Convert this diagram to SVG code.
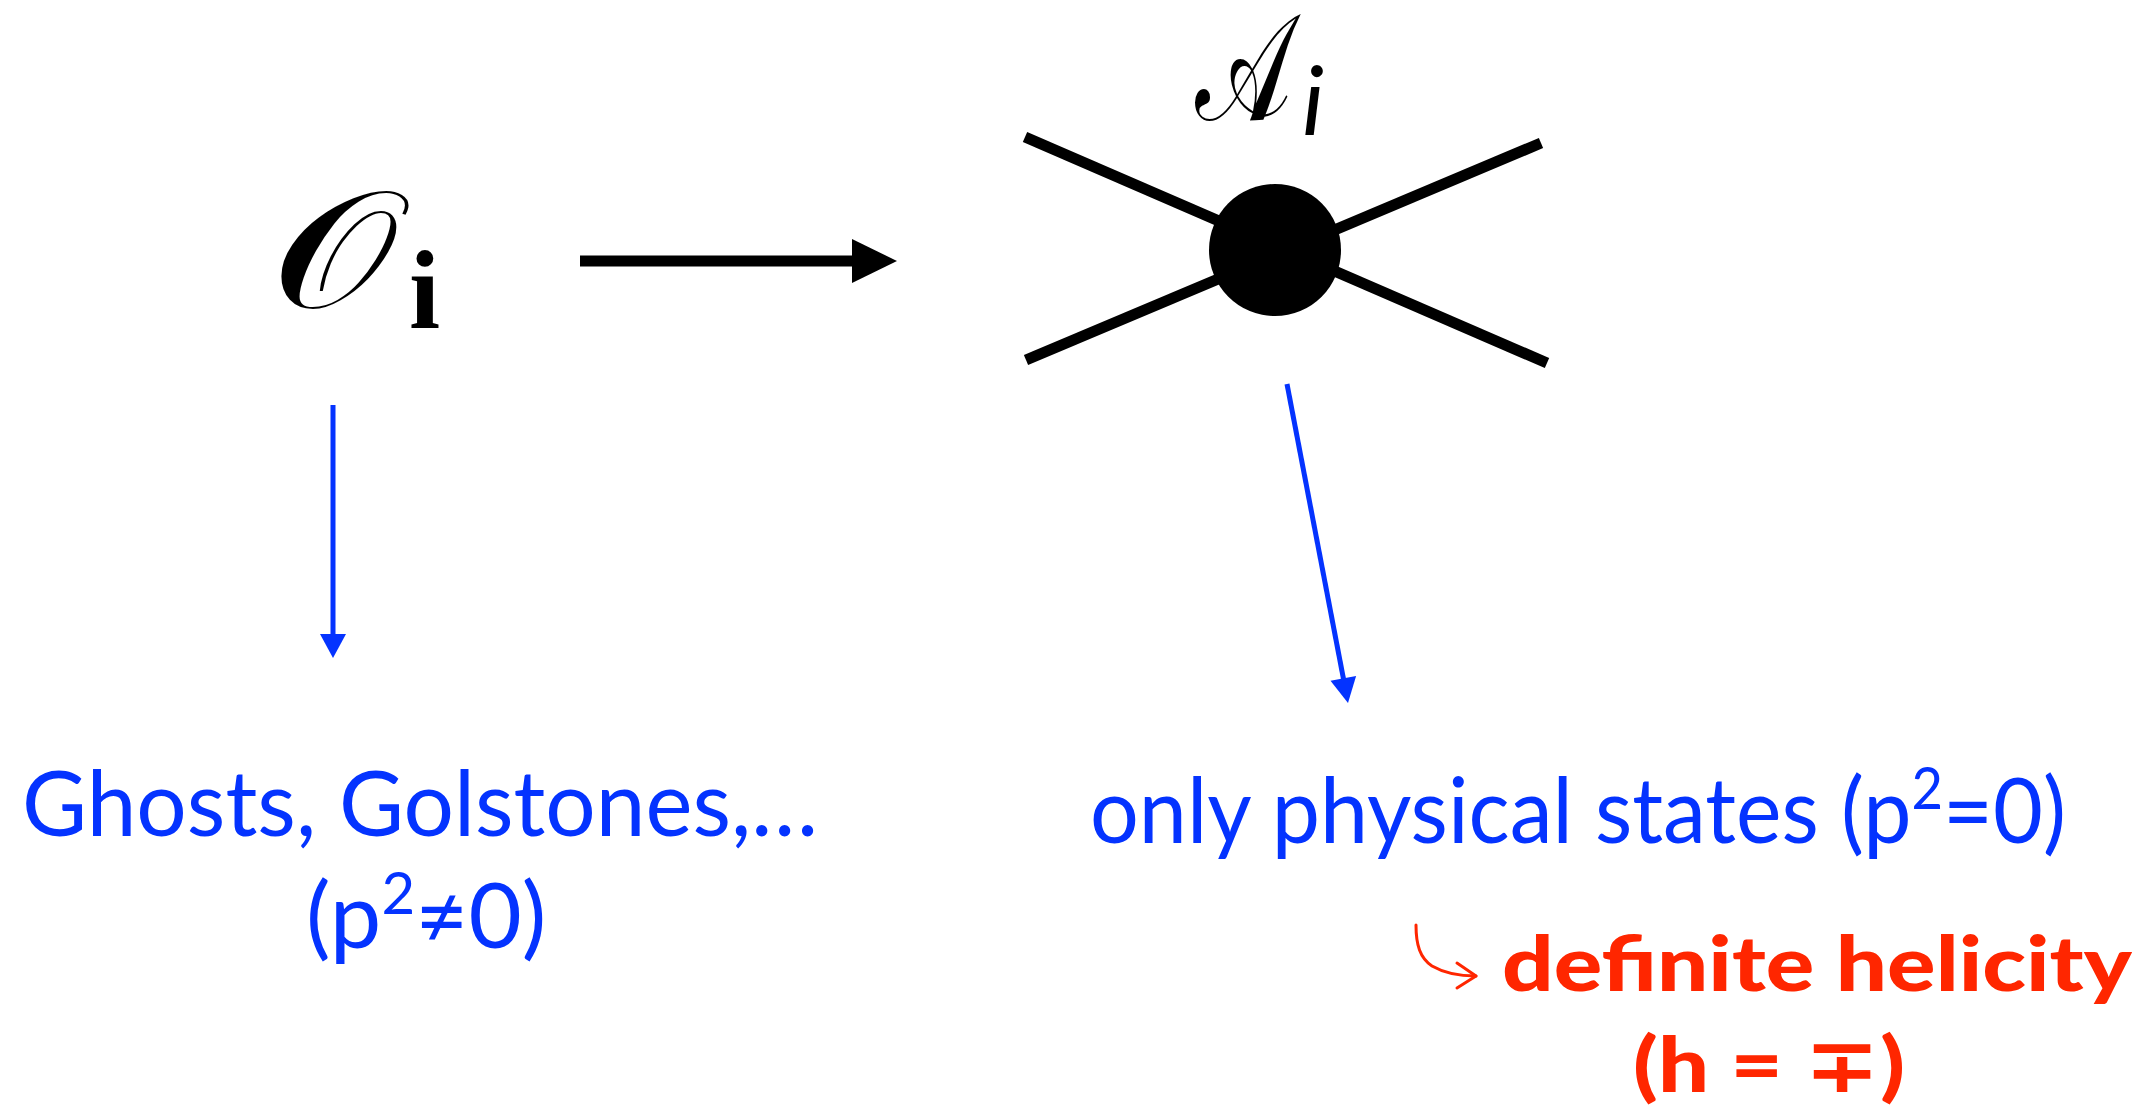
<svg xmlns="http://www.w3.org/2000/svg" width="2148" height="1110" viewBox="0 0 2148 1110">
  <style>
    .blue { fill: #0433FF; font-family: "Lato", "Open Sans", "DejaVu Sans", sans-serif; font-size: 92px; }
    .red { fill: #FF2600; font-family: "Lato", "Open Sans", "DejaVu Sans", sans-serif; font-size: 76px; font-weight: 900; }
    .script { fill: #000; font-family: "DejaVu Serif", "DejaVu Sans", "Noto Sans", serif; font-size: 140px; }
    .leg { stroke: #000; stroke-width: 11; stroke-linecap: butt; }
    .bl { stroke: #0433FF; stroke-width: 5; fill: none; }
    .rd { stroke: #FF2600; stroke-width: 3; fill: none; stroke-linecap: round; stroke-linejoin: round; }
  </style>
  <rect width="2148" height="1110" fill="#fff"/>

  <g id="node-operator">
    <text class="script" transform="translate(271,307) scale(1.43,1.18)" x="0" y="0">𝒪</text>
    <text x="409" y="328" font-family="Liberation Serif, serif" font-weight="bold" font-size="112">i</text>
  </g>

  <g id="node-amplitude">
    <line class="leg" x1="1025" y1="137" x2="1547" y2="363"/>
    <line class="leg" x1="1026" y1="360" x2="1541" y2="143"/>
    <circle cx="1275" cy="250" r="66" fill="#000"/>
    <text class="script" transform="translate(1195,120) scale(0.73,1.08)" x="0" y="0">𝒜</text>
    <text x="1302" y="135" font-family="Lato, Liberation Sans, sans-serif" font-style="italic" font-size="96">i</text>
  </g>

  <g id="node-ghosts">
    <text class="blue" x="22" y="836" textLength="796" lengthAdjust="spacingAndGlyphs">Ghosts, Golstones,…</text>
    <text class="blue" x="306" y="948">(p<tspan font-size="58" dy="-34">2</tspan><tspan dy="34">≠0)</tspan></text>
  </g>

  <g id="node-physical">
    <text class="blue" x="1090" y="843" textLength="976" lengthAdjust="spacingAndGlyphs">only physical states (p<tspan font-size="58" dy="-34">2</tspan><tspan dy="34">=0)</tspan></text>
  </g>

  <g id="node-helicity">
    <text class="red" x="1502" y="991" textLength="630" lengthAdjust="spacingAndGlyphs">definite helicity</text>
    <text class="red" x="1633" y="1092" textLength="272" lengthAdjust="spacingAndGlyphs">(h = ∓)</text>
  </g>

  <g id="connectors">
    <line x1="580" y1="261" x2="853" y2="261" stroke="#000" stroke-width="11"/>
    <polygon points="852,239 897,261 852,283" fill="#000"/>
    <line class="bl" x1="333" y1="405" x2="333" y2="636"/>
    <polygon points="320,634 346,634 333,658" fill="#0433FF"/>
    <line class="bl" x1="1287" y1="384" x2="1343.5" y2="679"/>
    <polygon points="1356.1,676 1348,703 1330.5,680.8" fill="#0433FF"/>
    <path class="rd" d="M1416,925 C1416,945 1420,958 1432,966 C1444,973 1460,976 1476,976"/>
    <path class="rd" d="M1457,963 L1476,976 L1457,988"/>
  </g>
</svg>
